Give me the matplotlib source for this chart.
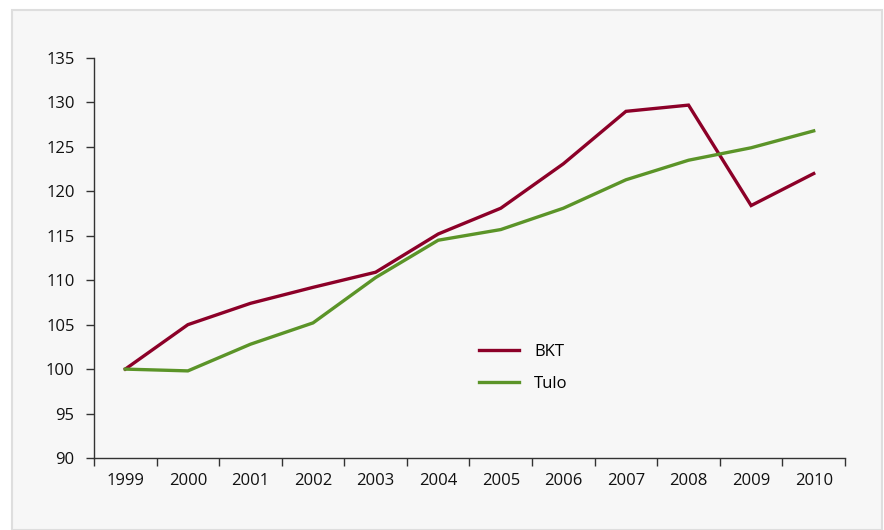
import matplotlib.pyplot as plt
import numpy as np
from matplotlib.patches import Rectangle

years = ['1999', '2000', '2001', '2002', '2003', '2004', '2005', '2006',
         '2007', '2008', '2009', '2010']
bkt = [100, 105.0, 107.4, 109.2, 110.9, 115.2, 118.1, 123.1, 129.0, 129.7, 118.4, 122.0]
tulo = [100, 99.8, 102.8, 105.2, 110.3, 114.5, 115.7, 118.1, 121.3, 123.5, 124.9, 126.8]

plt.rcParams['font.family'] = ['Open Sans', 'DejaVu Sans']
plt.rcParams['font.size'] = 12

W, H = 884, 530
fig = plt.figure(figsize=(W/100, H/100), dpi=100)
fig.patch.set_facecolor('white')

# gray panel with light border
panel = Rectangle((12/W, 0), 870/W, 520/H, transform=fig.transFigure,
                  facecolor='#f7f7f7', edgecolor='#dedede', linewidth=1.5, zorder=-10)
fig.patches.append(panel)

ax = fig.add_axes([94/W, (H-458)/H, (845-94)/W, (458-58)/H])
ax.set_facecolor('none')

x = np.arange(len(years))
l1, = ax.plot(x, bkt, color='#8c0028', lw=2.4, label='BKT', solid_joinstyle='miter')
l2, = ax.plot(x, tulo, color='#5b9428', lw=2.4, label='Tulo', solid_joinstyle='miter')

ax.set_xlim(-0.5, len(years) - 0.5)
ax.set_ylim(90, 135)
ax.set_yticks(np.arange(90, 136, 5))

# x ticks on category boundaries, labels at centres
ax.set_xticks(np.arange(-0.5, len(years), 1))
ax.set_xticklabels([])
ax.set_xticks(x, minor=True)
ax.set_xticklabels(years, minor=True)
ax.tick_params(axis='x', which='major', direction='out', length=6, width=1, color='#333333')
ax.tick_params(axis='x', which='minor', length=0, pad=11, labelcolor='#111111')
ax.tick_params(axis='y', direction='out', length=6, width=1, color='#333333',
               pad=8, labelcolor='#111111')

for s in ['top', 'right']:
    ax.spines[s].set_visible(False)
for s in ['left', 'bottom']:
    ax.spines[s].set_color('#333333')
    ax.spines[s].set_linewidth(1)

fig.legend(handles=[l1, l2], loc='upper left', bbox_to_anchor=(464/W, (H-329)/H),
           frameon=False, handlelength=2.4, handletextpad=0.9, labelspacing=0.95,
           fontsize=12)

plt.savefig('out.png', dpi=100, facecolor=fig.get_facecolor())
